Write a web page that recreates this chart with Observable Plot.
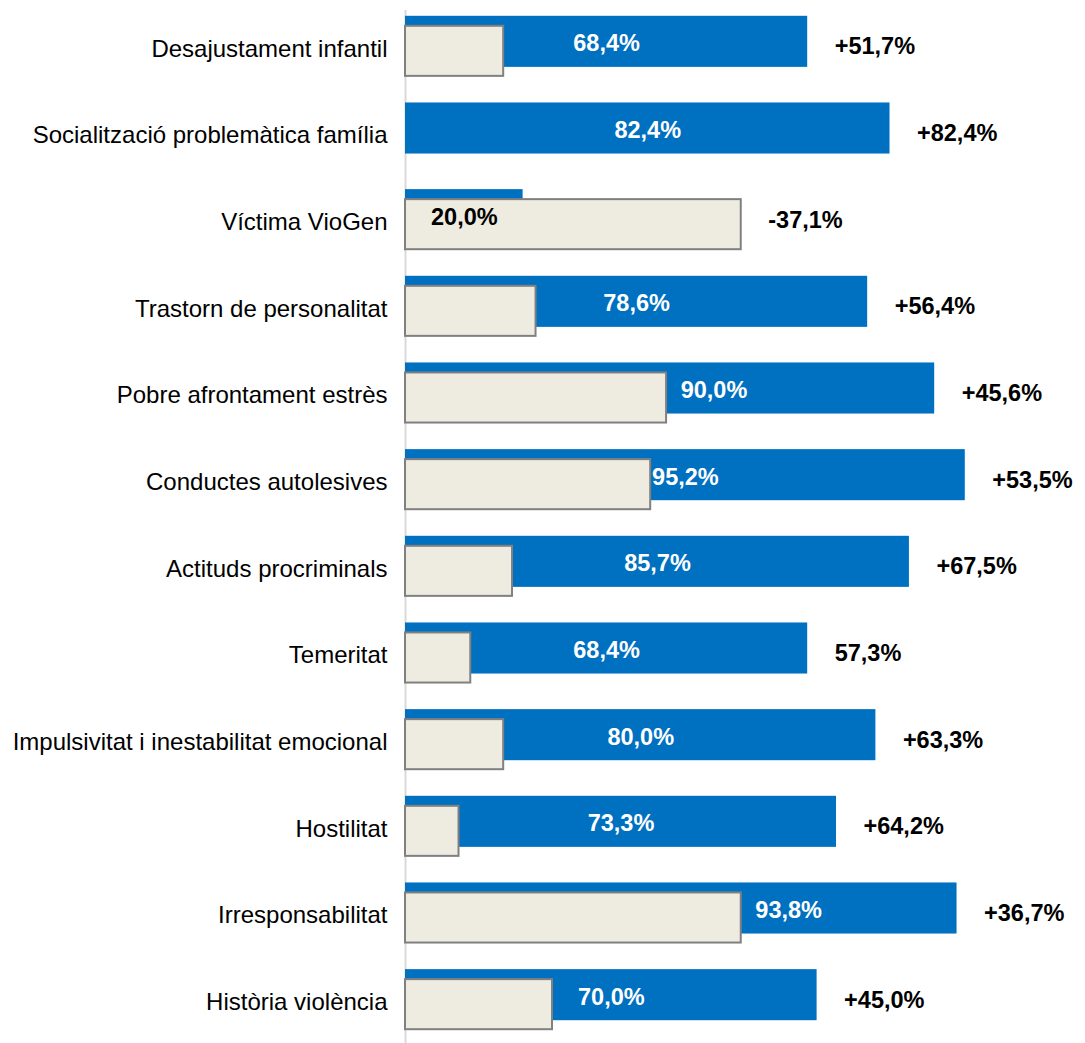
<!DOCTYPE html>
<html>
<head>
<meta charset="utf-8">
<script src="https://cdn.jsdelivr.net/npm/d3@7"></script>
<script src="https://cdn.jsdelivr.net/npm/@observablehq/plot@0.6"></script>
<style>
  html, body { margin: 0; padding: 0; background: #fff; }
  #chart { width: 1085px; height: 1043px; }
</style>
</head>
<body>
<div id="chart"></div>
<script>
const categories = [
  "Desajustament infantil",
  "Socialització problemàtica família",
  "Víctima VioGen",
  "Trastorn de personalitat",
  "Pobre afrontament estrès",
  "Conductes autolesives",
  "Actituds procriminals",
  "Temeritat",
  "Impulsivitat i inestabilitat emocional",
  "Hostilitat",
  "Irresponsabilitat",
  "Història violència"
];
const blueValues = [68.4, 82.4, 20.0, 78.6, 90.0, 95.2, 85.7, 68.4, 80.0, 73.3, 93.8, 70.0];
const beigeValues = [16.7, 0, 57.1, 22.2, 44.4, 41.7, 18.2, 11.1, 16.7, 9.1, 57.1, 25.0];
const diffLabels = ["+51,7%", "+82,4%", "-37,1%", "+56,4%", "+45,6%", "+53,5%", "+67,5%", "57,3%", "+63,3%", "+64,2%", "+36,7%", "+45,0%"];

const HALF = 5.7;  // half label width, in x units
const GAP = 2.4;   // gap after beige bar, in x units

const rows = categories.map((c, i) => {
  const b = blueValues[i], g = beigeValues[i];
  let lx = b / 2, anchor = "middle";
  if (g < b && b / 2 - HALF < g) { lx = g + GAP; anchor = "start"; }
  return {
    cat: c, blue: b, beige: g, diff: diffLabels[i],
    blueLabel: b.toFixed(1).replace(".", ",") + "%",
    end: Math.max(b, g), lx, anchor,
    lfill: g > b ? "#000" : "#fff"
  };
});

const FONT = "Liberation Sans, Arial, sans-serif";

const chart = Plot.plot({
  width: 1085,
  height: 1043,
  marginLeft: 405,
  marginRight: 92,
  marginTop: 3,
  marginBottom: 0,
  style: { fontFamily: FONT, background: "#fff" },
  x: { domain: [0, 100], axis: null },
  y: { domain: categories, padding: 0, round: false, label: null },
  marks: [
    Plot.ruleX([0], { stroke: "#d9d9d9", strokeWidth: 2, insetTop: 7 }),
    Plot.barX(rows, { x: "blue", y: "cat", fill: "#0070C0", insetTop: 12.8, insetBottom: 22.8 }),
    Plot.barX(rows.filter(d => d.beige > 0), {
      x: "beige", y: "cat", fill: "#EEEBE0", stroke: "#808080", strokeWidth: 2,
      insetTop: 22.8, insetBottom: 13.8
    }),
    Plot.text(rows.filter(d => d.anchor === "middle"), {
      x: "lx", y: "cat", text: "blueLabel", dy: -3,
      fill: "lfill", fontSize: 23.5, fontWeight: "bold", textAnchor: "middle"
    }),
    Plot.text(rows.filter(d => d.anchor === "start"), {
      x: "lx", y: "cat", text: "blueLabel", dy: -3,
      fill: "lfill", fontSize: 23.5, fontWeight: "bold", textAnchor: "start"
    }),
    Plot.text(rows, {
      x: "end", y: "cat", text: "diff", dx: 27, dy: 0,
      fill: "#000", fontSize: 23.5, fontWeight: "bold", textAnchor: "start"
    }),
    Plot.axisY({ tickSize: 0, tickPadding: 18, fontSize: 24, label: null, dy: 2, fill: "#000" })
  ]
});
document.getElementById("chart").appendChild(chart);
</script>
</body>
</html>
